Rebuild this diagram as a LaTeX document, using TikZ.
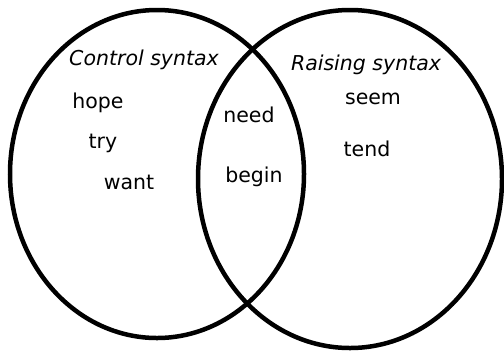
\documentclass[tikz,border=0pt]{standalone}
\usepackage{fontspec}
\setmainfont{DejaVu Sans}
\usepackage{tikz}

\tikzset{
  word/.style={anchor=base,inner sep=0pt,font=\fontsize{20.5bp}{22bp}\selectfont},
  title/.style={word,font=\fontsize{20.5bp}{22bp}\selectfont\itshape}
}

\begin{document}
\begin{tikzpicture}[x=1bp,y=-1bp]
    \useasboundingbox (0,0) rectangle (504,350);
    \begin{scope}[black,line width=4.5bp]
      \draw (157,174) ellipse [x radius=147, y radius=164];
      \draw (350,179) ellipse [x radius=152, y radius=169];
    \end{scope}
    \node[title] (control) at (144,65) {Control syntax};
    \node[title] (raising) at (366,70) {Raising syntax};
    \node[word] (hope) at (98,108) {hope};
    \node[word] (try) at (103,148) {try};
    \node[word] (want) at (129,189) {want};
    \node[word] (need) at (249,122) {need};
    \node[word] (begin) at (254,182) {begin};
    \node[word] (seem) at (373,104) {seem};
    \node[word] (tend) at (367,156) {tend};
  \end{tikzpicture}
\end{document}
